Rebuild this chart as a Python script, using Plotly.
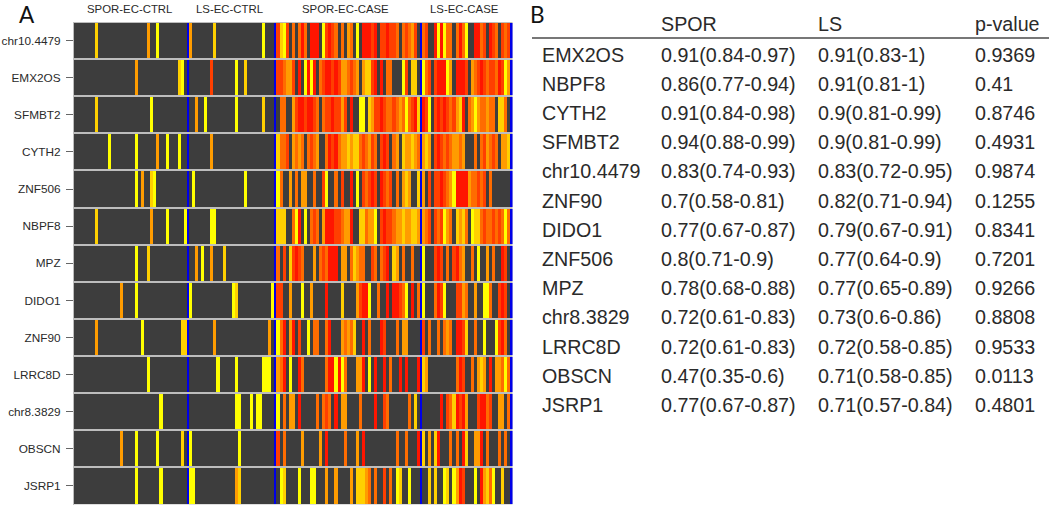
import plotly.graph_objects as go

W, H = 1050, 507

genes = ["chr10.4479", "EMX2OS", "SFMBT2", "CYTH2", "ZNF506", "NBPF8", "MPZ",
         "DIDO1", "ZNF90", "LRRC8D", "chr8.3829", "OBSCN", "JSRP1"]
group_names = ["SPOR-EC-CTRL", "LS-EC-CTRL", "SPOR-EC-CASE", "LS-EC-CASE"]

# expression level per sample, one string per gene: 0 = not expressed, 1 yellow ... 6 red
spor_ctrl = [
    "0000000200 0000000000 0000300100 0000000",
    "0000000000 0000000000 3000000000 0000210",
    "0000000200 0000000000 0000010000 0000000",
    "0000000000 0100000000 1000000300 1000100",
    "0000000000 0000000000 1030021000 0000000",
    "0000000200 0000000000 0000030000 1000001",
    "0000000000 0000000000 1000200000 0000000",
    "0000000000 0000030000 1000000000 0000000",
    "0000000300 0000000000 0010000000 0000022",
    "0000000000 0000000000 0000100000 0000000",
    "0000000000 0000000000 0000000010 0000000",
    "0000000000 0000030000 1000000100 0000020",
    "0000000000 0000000000 1000000010 0000000",
]
ls_ctrl = [
    "3000000020 0000000000 00001000",
    "0000000500 0000010020 00000000",
    "0030010000 0000010000 00002000",
    "0000000300 0000000000 00000000",
    "0100000000 0000000010 00000000",
    "0000000110 0000000000 00000000",
    "0030100300 0200000000 00000000",
    "1000000000 0000120000 00000001",
    "0000000030 0000000000 00000030",
    "0000000001 0000010000 00001110",
    "0000000000 0000011000 10110000",
    "1000000000 0000001000 00000000",
    "1100000000 0000032000 00000000",
]
spor_case = [
    [5,2,1,5,0,4,0,4,6,4,0,6,6,6,0,1,5,6,5,4,0,4,0,3,4,0,1,0,6,6,6,5,6,0,5,5,6,5,5,4,0,4,5,4,3,5,0],
    [5,5,4,3,3,5,0,6,0,1,6,1,6,0,4,5,6,6,5,6,5,3,3,4,5,4,3,0,3,2,2,5,6,0,6,0,4,4,0,0,0,1,5,0,2,2,0],
    [0,4,4,0,0,3,5,6,6,5,6,6,5,4,0,4,5,5,6,5,5,3,5,0,6,0,0,1,1,0,2,3,5,5,6,5,4,4,5,4,3,4,1,4,5,6,2],
    [2,4,4,5,0,3,4,3,4,0,4,5,4,3,0,0,4,6,5,6,4,3,3,2,3,2,2,4,5,4,3,5,4,0,5,6,5,0,4,3,0,2,3,3,2,3,4],
    [1,4,0,0,3,0,4,0,3,3,0,0,4,0,0,5,1,0,0,4,0,5,0,0,6,0,1,0,5,4,5,6,5,0,6,5,4,5,0,4,0,3,2,3,0,0,2],
    [2,2,2,0,0,4,1,6,0,1,0,4,5,4,0,3,6,6,6,5,5,4,3,3,6,0,0,2,2,4,3,3,1,0,5,6,5,5,4,3,3,2,3,3,2,2,3],
    [4,0,5,0,2,5,6,5,4,0,0,0,3,0,4,5,4,6,6,6,0,3,3,0,4,2,3,4,4,0,0,5,4,0,4,5,6,0,2,3,0,4,0,0,4,0,0],
    [5,5,0,0,3,0,0,0,1,0,0,3,0,0,0,0,6,0,0,0,0,2,0,0,0,0,3,5,6,6,1,0,0,4,0,0,6,0,6,6,5,4,1,0,6,0,4],
    [1,4,6,0,3,6,0,5,0,0,1,0,4,4,0,0,4,6,0,0,0,3,4,3,4,2,0,0,6,0,4,0,0,0,6,5,0,0,0,4,0,3,3,0,0,0,0],
    [3,4,6,0,1,0,0,6,4,0,0,0,0,0,0,0,4,6,6,1,6,1,4,0,0,0,3,3,6,0,1,0,6,0,0,6,0,4,0,0,6,0,6,0,0,0,6],
    [1,0,4,0,3,3,0,6,0,0,0,0,0,4,0,4,5,4,0,6,0,3,3,0,0,0,0,4,0,0,0,0,6,0,0,5,4,0,0,0,0,0,0,4,0,2,0],
    [5,0,4,0,0,0,0,0,3,0,0,0,0,0,3,0,6,0,0,0,0,0,4,0,0,0,3,0,6,0,0,0,0,0,0,0,0,0,0,4,0,0,4,0,0,0,6],
    [0,1,2,0,0,0,0,1,0,0,0,1,1,0,0,0,3,0,0,3,0,0,0,0,3,0,2,2,2,3,4,0,4,0,0,5,0,4,0,1,2,0,0,1,0,0,0],
]
ls_case = [
    [4,5,0,0,6,1,6,1,4,4,0,4,6,4,1,0,0,6,6,4,5,0,6,5,4,0,5,4,5],
    [1,4,5,0,5,6,6,6,1,3,0,6,6,6,5,0,3,4,5,6,5,4,5,5,4,6,5,1,3],
    [6,5,1,0,5,6,5,6,5,4,5,3,2,6,0,4,3,1,3,4,4,3,4,4,0,2,2,4,0],
    [3,2,3,0,5,6,5,4,5,4,3,3,4,3,0,0,0,4,0,4,5,3,4,5,4,0,3,3,2],
    [3,0,5,0,5,5,6,5,4,3,1,6,6,6,6,3,4,4,5,4,5,0,4,0,0,0,0,0,0],
    [3,4,5,0,5,4,5,1,3,4,0,2,3,2,4,0,1,2,2,4,5,4,4,5,4,5,4,1,4],
    [1,0,0,0,5,6,5,0,4,0,5,6,4,3,0,0,4,0,1,0,0,3,0,4,0,0,6,5,0],
    [1,0,0,0,4,6,5,1,0,0,0,5,5,3,4,0,0,3,0,0,1,1,4,0,0,5,6,5,0],
    [5,0,4,0,0,4,0,4,3,4,0,6,6,5,2,0,0,4,0,0,1,0,0,0,1,5,6,4,0],
    [2,3,0,0,0,0,0,0,0,0,0,4,6,5,0,0,4,0,3,2,3,0,6,0,3,3,4,1,4],
    [0,0,0,0,0,0,6,0,5,4,2,6,5,6,3,0,0,0,5,6,6,4,5,0,0,3,3,0,4],
    [2,0,3,0,2,6,0,0,0,4,0,4,0,6,2,0,0,3,3,6,0,4,0,0,0,4,0,4,0],
    [0,0,2,0,2,0,0,1,2,0,1,3,6,5,0,0,0,1,0,6,3,2,4,1,0,0,2,0,0],
]
BLUE = 7
SEPARATOR_WIDTH = 0.66   # the blue group separators are narrower than a sample column

def digits(s):
    return [int(c) for c in s if c != " "]

z = []
for g, a, b, c, d in zip(genes, spor_ctrl, ls_ctrl, spor_case, ls_case):
    row = digits(a) + [BLUE] + digits(b) + [BLUE] + list(c) + [BLUE] + list(d) + [BLUE]
    assert len(row) == 145, (g, len(digits(a)), len(digits(b)), len(c), len(d))
    z.append(row)

# column edges
edges = [0.0]
for value in z[0]:
    edges.append(edges[-1] + (SEPARATOR_WIDTH if value == BLUE else 1.0))

colors = ["#3d3d3d", "#ffff00", "#ffd000", "#ff9c00", "#ff6c00", "#ff3f00", "#ff1500", "#0000e8"]
n = len(colors)
colorscale = []
for i, col in enumerate(colors):
    colorscale += [[i / n, col], [(i + 1) / n, col]]

# table B
table_genes = ["EMX2OS", "NBPF8", "CYTH2", "SFMBT2", "chr10.4479", "ZNF90", "DIDO1",
               "ZNF506", "MPZ", "chr8.3829", "LRRC8D", "OBSCN", "JSRP1"]
spor_auc = ["0.91(0.84-0.97)", "0.86(0.77-0.94)", "0.91(0.84-0.98)", "0.94(0.88-0.99)",
            "0.83(0.74-0.93)", "0.7(0.58-0.81)", "0.77(0.67-0.87)", "0.8(0.71-0.9)",
            "0.78(0.68-0.88)", "0.72(0.61-0.83)", "0.72(0.61-0.83)", "0.47(0.35-0.6)",
            "0.77(0.67-0.87)"]
ls_auc = ["0.91(0.83-1)", "0.91(0.81-1)", "0.9(0.81-0.99)", "0.9(0.81-0.99)",
          "0.83(0.72-0.95)", "0.82(0.71-0.94)", "0.79(0.67-0.91)", "0.77(0.64-0.9)",
          "0.77(0.65-0.89)", "0.73(0.6-0.86)", "0.72(0.58-0.85)", "0.71(0.58-0.85)",
          "0.71(0.57-0.84)"]
p_values = ["0.9369", "0.41", "0.8746", "0.4931", "0.9874", "0.1255", "0.8341",
            "0.7201", "0.9266", "0.8808", "0.9533", "0.0113", "0.4801"]
table_headers = ["SPOR", "LS", "p-value"]

FONT = "Liberation Sans"
INK = "#2a2a2a"

fig = go.Figure(go.Heatmap(
    z=z, x=edges, y=genes,
    colorscale=colorscale, zmin=-0.5, zmax=7.5, showscale=False,
    ygap=2, hoverinfo="skip",
))

def px(x):
    return x / W

def py(y):
    return 1 - y / H

def label(x, y, text, size, anchor="left", family=FONT, color=INK):
    fig.add_annotation(x=px(x), y=py(y), xref="paper", yref="paper", text=text,
                       showarrow=False, xanchor=anchor, yanchor="middle",
                       font=dict(family=family, size=size, color=color))

label(27, 14, "A", 22.5, "center", "Lato", "#111")
label(537, 14, "B", 22.5, "center", "Lato", "#111")

for name, cx in zip(group_names, [129, 229, 346, 464]):
    label(cx, 9, name, 11.4, "center")

for head, x in zip(table_headers, [659, 816, 973]):
    label(x, 24, head, 19.7)
for i, (g, s, l, p) in enumerate(zip(table_genes, spor_auc, ls_auc, p_values)):
    y = 54.5 + i * 29.2
    label(539.5, y, g, 19.7)
    label(659, y, s, 19.7)
    label(816, y, l, 19.7)
    label(973, y, p, 19.7)

fig.add_shape(type="line", xref="paper", yref="paper",
              x0=px(532), x1=px(1049), y0=py(38), y1=py(38),
              line=dict(color="#777777", width=2))

fig.update_layout(
    width=W, height=H, margin=dict(l=0, r=0, t=0, b=0),
    paper_bgcolor="white", plot_bgcolor="#bdbdbd", showlegend=False,
    xaxis=dict(domain=[px(74), px(512.5)], range=[edges[0], edges[-1]], showticklabels=False,
               ticks="", showgrid=False, zeroline=False),
    yaxis=dict(domain=[py(504.5), py(22)], autorange="reversed", type="category",
               ticks="outside", ticklen=7, tickwidth=1, tickcolor="#666666",
               ticklabelstandoff=3,
               showgrid=False, zeroline=False, showline=True, linecolor="#bdbdbd", linewidth=1,
               tickfont=dict(family=FONT, size=11.8, color=INK)),
)
fig.write_html("out.html", config={"displayModeBar": False},
               post_script="document.body.style.margin='0';document.documentElement.style.overflow='hidden';")
